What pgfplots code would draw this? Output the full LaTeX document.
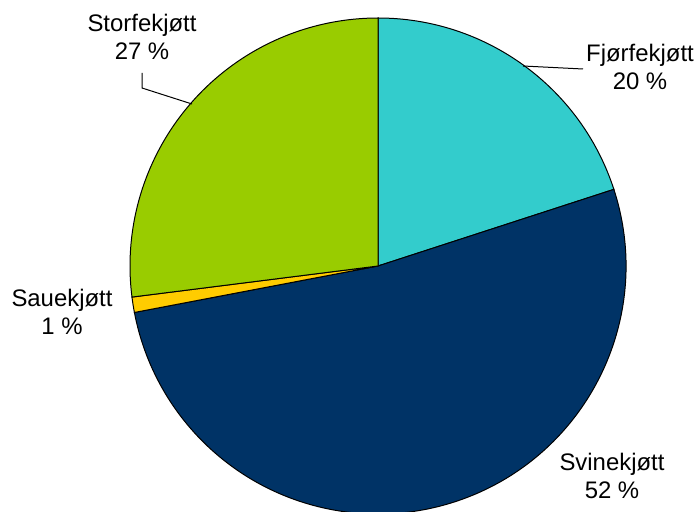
\documentclass[border=0pt]{standalone}
\usepackage{fontspec}
\setmainfont{Liberation Sans}
\usepackage{pgfplots}
\pgfplotsset{compat=1.18}

\definecolor{fjor}{HTML}{33CCCC}
\definecolor{svin}{HTML}{003366}
\definecolor{saue}{HTML}{FFCC00}
\definecolor{stor}{HTML}{99CC00}

\begin{document}
\begin{tikzpicture}
\begin{axis}[
    width=349bp, height=256bp,
    scale only axis,
    hide axis,
    xmin=0, xmax=698, ymin=0, ymax=512,
    clip=true,
]
% pie: centre (378,246) in px, radius 248 px = 124bp; slices clockwise from top
\pgfplotsextra{
  \gdef\startang{90}
  \foreach \v/\c in {20/fjor, 52/svin, 1/saue, 27/stor}{
    \pgfmathsetmacro\endang{\startang-3.6*\v}
    \filldraw[fill=\c, draw=black, line width=0.5pt]
      (axis cs:378,246) -- ++(\startang:124bp)
      arc[start angle=\startang, end angle=\endang, radius=124bp] -- cycle;
    \xdef\startang{\endang}
  }
  \draw[line width=0.5pt] (axis cs:523,446) -- (axis cs:583,443);
  \draw[line width=0.5pt] (axis cs:142,439) -- (axis cs:142,424) -- (axis cs:192,408);
}
\begin{scope}[every node/.style={align=center, font=\fontsize{12}{14}\selectfont, inner sep=0pt}]
\node at (axis cs:640,445) {Fjørfekjøtt\\20 \%};
\node at (axis cs:612,36) {Svinekjøtt\\52 \%};
\node at (axis cs:62,200) {Sauekjøtt\\1 \%};
\node at (axis cs:142,475) {Storfekjøtt\\27 \%};
\end{scope}
\end{axis}
\pgfresetboundingbox
\useasboundingbox (current axis.south west) rectangle (current axis.north east);
\end{tikzpicture}
\end{document}
